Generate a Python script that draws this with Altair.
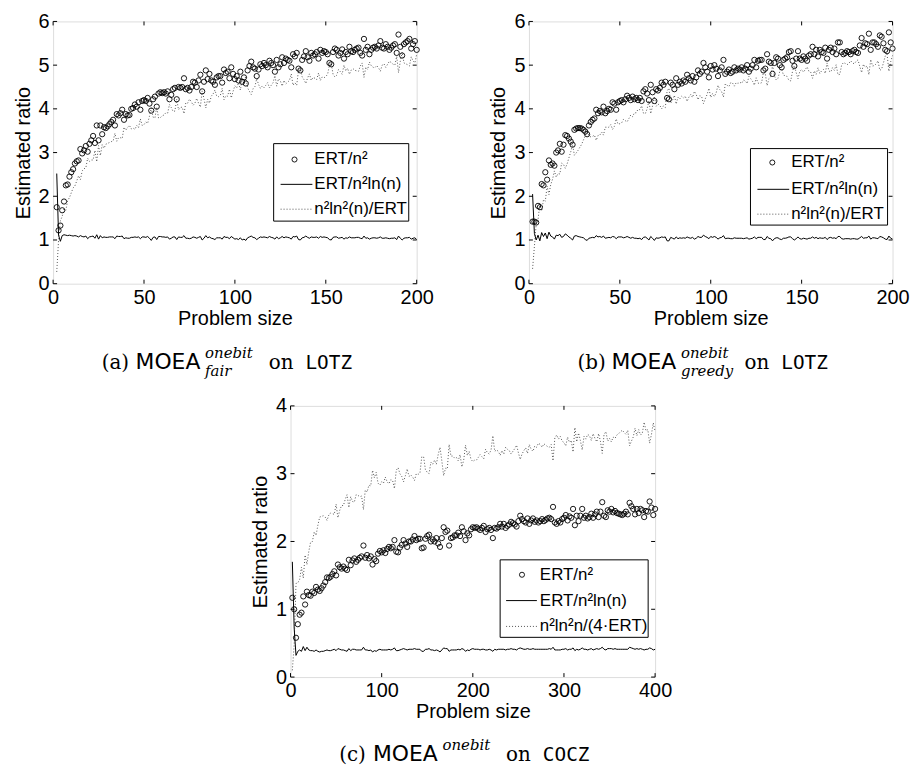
import altair as alt
import pandas as pd

FONT = "Liberation Sans"
SERIF = "DejaVu Serif"
SANS2 = "DejaVu Sans"
MONO = "DejaVu Sans Mono"

# ---------------- panel (a) : n = 2..200 ----------------
A_N = list(range(2, 201))
A_CIRC = [
    1.75, 1.22, 1.33, 1.68, 1.88, 2.25, 2.27, 2.45, 2.55, 2.62,
    2.75, 2.80, 2.82, 3.08, 2.98, 3.05, 3.15, 3.02, 3.20, 3.28,
    3.38, 3.22, 3.62, 3.28, 3.62, 3.42, 3.58, 3.56, 3.60, 3.65,
    3.70, 3.75, 3.62, 3.88, 3.85, 3.90, 3.98, 3.75, 3.88, 3.85,
    3.86, 4.00, 4.02, 4.10, 4.05, 4.15, 3.98, 4.18, 4.20, 4.18,
    4.25, 4.12, 3.96, 4.22, 4.28, 4.05, 4.35, 4.38, 4.36, 4.38,
    4.35, 4.40, 4.22, 4.32, 4.45, 4.48, 4.22, 4.50, 4.48, 4.50,
    4.70, 4.45, 4.48, 4.42, 4.50, 4.62, 4.60, 4.50, 4.65, 4.78,
    4.40, 4.62, 4.88, 4.68, 4.80, 4.65, 4.62, 4.55, 4.72, 4.75,
    4.75, 4.60, 4.90, 4.82, 4.85, 4.70, 4.95, 4.80, 4.68, 4.75,
    4.65, 4.85, 4.62, 4.72, 4.58, 4.88, 4.98, 5.08, 4.95, 4.92,
    4.75, 4.90, 5.02, 4.98, 5.05, 5.00, 4.95, 5.10, 5.05, 5.00,
    4.85, 5.12, 4.95, 5.02, 5.18, 5.05, 5.15, 5.12, 5.10, 4.95,
    5.25, 5.20, 5.28, 4.92, 4.88, 5.12, 5.20, 5.32, 5.18, 5.10,
    5.28, 5.22, 5.25, 5.30, 5.15, 5.35, 5.28, 5.32, 5.30, 5.25,
    5.05, 5.02, 5.30, 5.38, 5.35, 5.22, 5.28, 5.36, 5.15, 5.30,
    5.25, 5.42, 5.32, 5.30, 5.35, 5.38, 5.40, 5.28, 5.22, 5.60,
    5.35, 5.42, 5.25, 5.35, 5.40, 5.42, 5.38, 5.45, 5.55, 5.40,
    5.38, 5.48, 5.42, 5.35, 5.40, 5.45, 5.48, 5.28, 5.70, 5.42,
    5.22, 5.48, 5.52, 5.55, 5.60, 5.38, 5.48, 5.55, 5.35,
]
A_LINE = [
    2.52, 1.11, 0.97, 1.10, 1.12, 1.11, 1.10, 1.11, 1.10, 1.09,
    1.10, 1.09, 1.07, 1.10, 1.08, 1.07, 1.09, 1.03, 1.07, 1.08,
    1.09, 1.04, 1.12, 1.02, 1.10, 1.05, 1.07, 1.06, 1.06, 1.07,
    1.07, 1.07, 1.03, 1.09, 1.08, 1.08, 1.09, 1.03, 1.05, 1.04,
    1.04, 1.06, 1.06, 1.07, 1.06, 1.07, 1.03, 1.07, 1.07, 1.06,
    1.08, 1.04, 0.99, 1.06, 1.07, 1.01, 1.08, 1.08, 1.07, 1.07,
    1.06, 1.07, 1.02, 1.04, 1.07, 1.07, 1.01, 1.07, 1.06, 1.06,
    1.10, 1.04, 1.04, 1.03, 1.04, 1.07, 1.06, 1.04, 1.06, 1.08,
    1.00, 1.04, 1.10, 1.05, 1.07, 1.04, 1.03, 1.01, 1.05, 1.05,
    1.05, 1.02, 1.08, 1.06, 1.06, 1.03, 1.08, 1.05, 1.02, 1.03,
    1.01, 1.05, 1.00, 1.02, 0.99, 1.05, 1.07, 1.09, 1.06, 1.05,
    1.01, 1.04, 1.07, 1.06, 1.07, 1.06, 1.05, 1.08, 1.06, 1.05,
    1.02, 1.07, 1.03, 1.05, 1.08, 1.05, 1.07, 1.06, 1.05, 1.02,
    1.08, 1.07, 1.09, 1.01, 1.00, 1.05, 1.06, 1.09, 1.06, 1.04,
    1.07, 1.06, 1.06, 1.07, 1.04, 1.08, 1.06, 1.07, 1.06, 1.05,
    1.01, 1.00, 1.06, 1.07, 1.07, 1.04, 1.05, 1.06, 1.02, 1.05,
    1.04, 1.07, 1.05, 1.05, 1.05, 1.06, 1.06, 1.04, 1.03, 1.09,
    1.04, 1.05, 1.02, 1.04, 1.05, 1.05, 1.04, 1.05, 1.07, 1.04,
    1.04, 1.05, 1.04, 1.03, 1.04, 1.04, 1.05, 1.01, 1.09, 1.04,
    1.00, 1.04, 1.05, 1.05, 1.06, 1.02, 1.04, 1.05, 1.01,
]
A_DOT = [
    0.27, 0.99, 1.44, 1.54, 1.71, 1.68, 1.90, 1.97, 2.08, 2.19,
    2.24, 2.35, 2.47, 2.38, 2.58, 2.63, 2.65, 2.87, 2.80, 2.83,
    2.83, 3.05, 2.79, 3.16, 2.93, 3.18, 3.10, 3.19, 3.21, 3.23,
    3.25, 3.26, 3.44, 3.26, 3.34, 3.34, 3.32, 3.58, 3.51, 3.58,
    3.62, 3.54, 3.56, 3.53, 3.62, 3.57, 3.77, 3.62, 3.64, 3.70,
    3.67, 3.83, 4.02, 3.81, 3.79, 4.04, 3.79, 3.80, 3.84, 3.86,
    3.91, 3.90, 4.10, 4.03, 3.94, 3.95, 4.22, 3.98, 4.03, 4.04,
    3.89, 4.14, 4.13, 4.22, 4.17, 4.08, 4.13, 4.24, 4.13, 4.04,
    4.41, 4.23, 4.02, 4.22, 4.13, 4.29, 4.34, 4.43, 4.29, 4.28,
    4.31, 4.47, 4.21, 4.30, 4.29, 4.45, 4.25, 4.40, 4.53, 4.48,
    4.60, 4.43, 4.67, 4.59, 4.75, 4.48, 4.40, 4.33, 4.46, 4.51,
    4.69, 4.56, 4.47, 4.52, 4.48, 4.54, 4.60, 4.48, 4.54, 4.60,
    4.76, 4.52, 4.69, 4.64, 4.52, 4.65, 4.57, 4.61, 4.65, 4.80,
    4.54, 4.60, 4.54, 4.89, 4.94, 4.73, 4.67, 4.58, 4.71, 4.80,
    4.65, 4.72, 4.70, 4.67, 4.82, 4.65, 4.73, 4.71, 4.74, 4.79,
    5.00, 5.04, 4.79, 4.73, 4.77, 4.90, 4.85, 4.79, 5.00, 4.87,
    4.93, 4.79, 4.89, 4.92, 4.88, 4.87, 4.86, 4.98, 5.05, 4.72,
    4.95, 4.90, 5.07, 4.99, 4.95, 4.94, 4.99, 4.94, 4.86, 5.00,
    5.03, 4.95, 5.02, 5.09, 5.06, 5.02, 5.00, 5.20, 4.83, 5.09,
    5.30, 5.05, 5.03, 5.01, 4.98, 5.19, 5.10, 5.05, 5.25,
]

# ---------------- panel (b) : n = 2..200 ----------------
B_N = list(range(2, 201))
B_CIRC = [
    1.42, 1.42, 1.40, 1.78, 1.75, 2.28, 2.25, 2.55, 2.38, 2.82,
    2.72, 2.75, 2.70, 3.00, 3.05, 3.20, 3.02, 3.18, 3.40, 3.38,
    3.32, 3.25, 3.18, 3.52, 3.55, 3.56, 3.56, 3.55, 3.52, 3.48,
    3.42, 3.62, 3.70, 3.75, 3.78, 3.98, 3.90, 3.95, 3.92, 4.05,
    3.90, 3.95, 4.00, 3.98, 4.15, 4.12, 3.98, 4.15, 4.18, 4.20,
    4.15, 4.22, 4.30, 4.25, 4.20, 4.28, 4.22, 4.25, 4.20, 4.25,
    4.18, 4.40, 4.45, 4.35, 4.20, 4.55, 4.38, 4.18, 4.45, 4.42,
    4.48, 4.60, 4.55, 4.62, 4.25, 4.22, 4.60, 4.55, 4.45, 4.70,
    4.55, 4.62, 4.58, 4.65, 4.62, 4.78, 4.70, 4.65, 4.75, 4.62,
    4.72, 4.88, 4.80, 4.85, 5.05, 4.95, 4.85, 4.72, 4.98, 4.90,
    5.00, 4.92, 4.75, 4.88, 4.95, 5.12, 4.80, 4.85, 4.90, 4.82,
    4.85, 4.95, 4.88, 4.92, 4.90, 4.95, 4.88, 4.92, 5.00, 4.85,
    4.92, 5.00, 5.12, 4.95, 5.10, 5.12, 5.12, 4.88, 4.92, 5.25,
    5.08, 5.05, 4.80, 5.05, 5.18, 5.15, 5.00, 4.95, 5.12, 5.15,
    5.18, 5.30, 5.32, 5.10, 4.98, 5.15, 5.32, 5.15, 5.12, 5.20,
    5.15, 5.10, 5.22, 5.25, 5.42, 5.25, 5.35, 5.20, 5.35, 5.30,
    5.28, 5.40, 5.15, 5.35, 5.40, 5.30, 5.38, 5.25, 5.52, 5.52,
    5.30, 5.25, 5.28, 5.32, 5.30, 5.25, 5.32, 5.35, 5.30, 5.28,
    5.45, 5.62, 5.42, 5.50, 5.48, 5.72, 5.35, 5.52, 5.52, 5.48,
    5.42, 5.68, 5.65, 5.50, 5.35, 5.32, 5.75, 5.52, 5.38,
]
B_LINE = [
    2.05, 1.15, 1.00, 1.11, 0.98, 1.17, 1.08, 1.16, 1.03, 1.18,
    1.09, 1.07, 1.02, 1.11, 1.10, 1.13, 1.06, 1.08, 1.14, 1.11,
    1.07, 1.04, 1.00, 1.09, 1.10, 1.08, 1.07, 1.06, 1.05, 1.01,
    0.99, 1.04, 1.05, 1.06, 1.05, 1.10, 1.07, 1.08, 1.06, 1.09,
    1.04, 1.05, 1.06, 1.05, 1.08, 1.07, 1.03, 1.07, 1.07, 1.07,
    1.05, 1.06, 1.08, 1.06, 1.04, 1.06, 1.04, 1.04, 1.03, 1.04,
    1.01, 1.06, 1.07, 1.04, 1.00, 1.08, 1.04, 0.99, 1.05, 1.04,
    1.05, 1.07, 1.06, 1.07, 0.98, 0.98, 1.06, 1.04, 1.02, 1.07,
    1.03, 1.05, 1.04, 1.05, 1.04, 1.07, 1.05, 1.04, 1.06, 1.02,
    1.04, 1.08, 1.06, 1.06, 1.11, 1.08, 1.06, 1.03, 1.08, 1.06,
    1.08, 1.06, 1.02, 1.05, 1.06, 1.10, 1.03, 1.04, 1.04, 1.03,
    1.03, 1.05, 1.04, 1.04, 1.04, 1.04, 1.03, 1.04, 1.05, 1.02,
    1.03, 1.04, 1.07, 1.03, 1.06, 1.06, 1.06, 1.01, 1.01, 1.08,
    1.04, 1.03, 0.98, 1.03, 1.05, 1.05, 1.02, 1.01, 1.04, 1.04,
    1.05, 1.07, 1.07, 1.03, 1.00, 1.03, 1.07, 1.03, 1.02, 1.04,
    1.03, 1.02, 1.04, 1.04, 1.07, 1.04, 1.06, 1.03, 1.05, 1.04,
    1.04, 1.06, 1.01, 1.05, 1.06, 1.04, 1.05, 1.03, 1.08, 1.08,
    1.03, 1.02, 1.03, 1.03, 1.03, 1.02, 1.03, 1.03, 1.02, 1.02,
    1.05, 1.08, 1.04, 1.05, 1.05, 1.09, 1.02, 1.05, 1.05, 1.04,
    1.03, 1.08, 1.07, 1.05, 1.02, 1.01, 1.09, 1.04, 1.02,
]
B_DOT = [
    0.34, 0.85, 1.37, 1.46, 1.83, 1.66, 1.92, 1.89, 2.23, 2.04,
    2.27, 2.39, 2.58, 2.44, 2.52, 2.51, 2.76, 2.73, 2.64, 2.74,
    2.88, 3.02, 3.18, 2.94, 2.99, 3.05, 3.12, 3.19, 3.29, 3.39,
    3.51, 3.38, 3.36, 3.37, 3.40, 3.28, 3.39, 3.40, 3.47, 3.40,
    3.58, 3.58, 3.58, 3.64, 3.53, 3.60, 3.77, 3.65, 3.66, 3.68,
    3.76, 3.73, 3.70, 3.78, 3.86, 3.82, 3.91, 3.91, 3.99, 3.98,
    4.07, 3.90, 3.89, 4.00, 4.18, 3.89, 4.07, 4.29, 4.06, 4.11,
    4.08, 4.00, 4.07, 4.03, 4.41, 4.47, 4.13, 4.20, 4.31, 4.11,
    4.27, 4.23, 4.29, 4.25, 4.29, 4.17, 4.27, 4.33, 4.26, 4.40,
    4.33, 4.21, 4.30, 4.28, 4.12, 4.23, 4.33, 4.47, 4.26, 4.35,
    4.28, 4.37, 4.54, 4.44, 4.39, 4.27, 4.57, 4.54, 4.51, 4.60,
    4.59, 4.52, 4.60, 4.58, 4.61, 4.58, 4.66, 4.64, 4.58, 4.74,
    4.69, 4.63, 4.54, 4.71, 4.59, 4.58, 4.60, 4.84, 4.81, 4.53,
    4.69, 4.73, 5.00, 4.76, 4.66, 4.70, 4.86, 4.92, 4.77, 4.76,
    4.74, 4.65, 4.64, 4.86, 4.99, 4.83, 4.69, 4.86, 4.90, 4.84,
    4.90, 4.96, 4.86, 4.84, 4.70, 4.87, 4.79, 4.94, 4.81, 4.87,
    4.90, 4.81, 5.05, 4.87, 4.84, 4.94, 4.88, 5.01, 4.78, 4.79,
    5.00, 5.06, 5.04, 5.01, 5.04, 5.10, 5.05, 5.03, 5.09, 5.12,
    4.97, 4.83, 5.02, 4.95, 4.98, 4.78, 5.13, 4.98, 4.99, 5.03,
    5.10, 4.88, 4.91, 5.05, 5.21, 5.25, 4.86, 5.08, 5.22,
]

# ---------------- panel (c) : n = 2, 4, ..., 400 ----------------
C_N = list(range(2, 401, 2))
C_CIRC = [
    1.17, 1.00, 0.58, 0.78, 0.92, 0.95, 1.19, 1.07, 1.26, 1.21,
    1.20, 1.26, 1.24, 1.33, 1.29, 1.27, 1.31, 1.35, 1.40, 1.47,
    1.46, 1.48, 1.52, 1.56, 1.50, 1.66, 1.62, 1.60, 1.63, 1.60,
    1.58, 1.73, 1.65, 1.72, 1.75, 1.70, 1.73, 1.76, 1.78, 1.94,
    1.76, 1.80, 1.75, 1.78, 1.66, 1.74, 1.71, 1.82, 1.86, 1.84,
    1.87, 1.83, 1.89, 1.92, 1.90, 1.92, 2.02, 1.85, 1.84, 1.91,
    1.95, 2.02, 1.97, 1.92, 2.00, 2.00, 2.03, 2.08, 2.02, 2.04,
    2.04, 1.90, 1.91, 2.04, 2.08, 2.10, 2.00, 2.03, 2.00, 2.05,
    1.97, 1.92, 2.05, 2.21, 2.14, 2.16, 1.94, 2.05, 2.06, 2.09,
    2.09, 2.13, 2.08, 2.21, 2.15, 2.02, 2.12, 2.09, 2.18, 2.21,
    2.20, 2.21, 2.19, 2.17, 2.20, 2.23, 2.14, 2.18, 2.20, 2.17,
    2.05, 2.20, 2.19, 2.21, 2.26, 2.22, 2.26, 2.20, 2.23, 2.25,
    2.29, 2.27, 2.25, 2.22, 2.30, 2.38, 2.33, 2.30, 2.28, 2.34,
    2.26, 2.31, 2.34, 2.29, 2.31, 2.28, 2.30, 2.33, 2.30, 2.32,
    2.34, 2.35, 2.33, 2.51, 2.28, 2.26, 2.30, 2.28, 2.33, 2.35,
    2.39, 2.31, 2.37, 2.35, 2.48, 2.24, 2.38, 2.30, 2.38, 2.48,
    2.35, 2.38, 2.34, 2.36, 2.41, 2.35, 2.40, 2.44, 2.36, 2.44,
    2.58, 2.38, 2.36, 2.46, 2.44, 2.48, 2.43, 2.45, 2.42, 2.41,
    2.40, 2.39, 2.41, 2.44, 2.40, 2.57, 2.52, 2.48, 2.40, 2.48,
    2.42, 2.48, 2.46, 2.36, 2.45, 2.44, 2.59, 2.50, 2.39, 2.48,
]
C_LINE = [
    1.70, 0.72, 0.32, 0.38, 0.40, 0.38, 0.45, 0.39, 0.44, 0.40,
    0.39, 0.39, 0.38, 0.40, 0.38, 0.37, 0.38, 0.38, 0.39, 0.40,
    0.39, 0.39, 0.40, 0.41, 0.39, 0.42, 0.41, 0.40, 0.40, 0.39,
    0.38, 0.42, 0.39, 0.41, 0.41, 0.40, 0.40, 0.40, 0.40, 0.44,
    0.40, 0.40, 0.39, 0.40, 0.37, 0.39, 0.38, 0.40, 0.41, 0.40,
    0.40, 0.40, 0.40, 0.41, 0.40, 0.41, 0.43, 0.39, 0.39, 0.40,
    0.41, 0.42, 0.41, 0.40, 0.41, 0.41, 0.41, 0.42, 0.41, 0.41,
    0.41, 0.38, 0.38, 0.41, 0.41, 0.42, 0.40, 0.40, 0.39, 0.40,
    0.39, 0.37, 0.40, 0.43, 0.42, 0.42, 0.38, 0.40, 0.40, 0.40,
    0.40, 0.41, 0.40, 0.42, 0.41, 0.38, 0.40, 0.39, 0.41, 0.42,
    0.41, 0.41, 0.41, 0.40, 0.41, 0.41, 0.40, 0.40, 0.41, 0.40,
    0.38, 0.41, 0.40, 0.41, 0.41, 0.41, 0.41, 0.40, 0.41, 0.41,
    0.42, 0.41, 0.41, 0.40, 0.42, 0.43, 0.42, 0.41, 0.41, 0.42,
    0.41, 0.41, 0.42, 0.41, 0.41, 0.41, 0.41, 0.41, 0.41, 0.41,
    0.41, 0.42, 0.41, 0.44, 0.40, 0.40, 0.40, 0.40, 0.41, 0.41,
    0.42, 0.40, 0.41, 0.41, 0.43, 0.39, 0.41, 0.40, 0.41, 0.43,
    0.41, 0.41, 0.40, 0.41, 0.42, 0.40, 0.41, 0.42, 0.41, 0.42,
    0.44, 0.41, 0.40, 0.42, 0.42, 0.42, 0.41, 0.42, 0.41, 0.41,
    0.41, 0.41, 0.41, 0.41, 0.41, 0.44, 0.43, 0.42, 0.41, 0.42,
    0.41, 0.42, 0.41, 0.40, 0.41, 0.41, 0.43, 0.42, 0.40, 0.41,
]
C_DOT = [
    0.10, 0.48, 1.38, 1.39, 1.44, 1.62, 1.46, 1.80, 1.66, 1.85,
    1.99, 2.00, 2.14, 2.09, 2.24, 2.36, 2.37, 2.38, 2.36, 2.31,
    2.39, 2.42, 2.41, 2.40, 2.55, 2.35, 2.46, 2.53, 2.53, 2.62,
    2.69, 2.50, 2.66, 2.59, 2.58, 2.69, 2.68, 2.66, 2.67, 2.47,
    2.76, 2.73, 2.83, 2.82, 3.05, 2.94, 3.02, 2.86, 2.83, 2.88,
    2.86, 2.95, 2.88, 2.85, 2.91, 2.90, 2.78, 3.05, 3.09, 3.00,
    2.96, 2.88, 2.97, 3.07, 2.96, 2.98, 2.95, 2.90, 3.00, 2.99,
    3.01, 3.25, 3.25, 3.06, 3.02, 3.00, 3.17, 3.14, 3.20, 3.14,
    3.28, 3.39, 3.19, 2.97, 3.08, 3.07, 3.43, 3.26, 3.26, 3.23,
    3.24, 3.19, 3.28, 3.10, 3.20, 3.42, 3.27, 3.33, 3.21, 3.18,
    3.20, 3.20, 3.24, 3.28, 3.25, 3.22, 3.36, 3.31, 3.29, 3.35,
    3.56, 3.33, 3.35, 3.33, 3.27, 3.34, 3.29, 3.39, 3.36, 3.34,
    3.29, 3.33, 3.37, 3.42, 3.31, 3.21, 3.29, 3.34, 3.38, 3.30,
    3.43, 3.36, 3.33, 3.41, 3.39, 3.45, 3.43, 3.39, 3.44, 3.42,
    3.40, 3.39, 3.43, 3.19, 3.53, 3.57, 3.51, 3.55, 3.48, 3.46,
    3.41, 3.54, 3.46, 3.49, 3.32, 3.68, 3.47, 3.60, 3.49, 3.35,
    3.55, 3.51, 3.58, 3.56, 3.49, 3.59, 3.52, 3.47, 3.59, 3.48,
    3.30, 3.58, 3.62, 3.48, 3.52, 3.47, 3.54, 3.52, 3.57, 3.59,
    3.62, 3.64, 3.61, 3.58, 3.64, 3.41, 3.48, 3.54, 3.67, 3.56,
    3.65, 3.57, 3.60, 3.76, 3.63, 3.65, 3.45, 3.58, 3.75, 3.62,
]

# ---------------- axes, legends, captions ----------------
AB_XTICKS = [0, 50, 100, 150, 200]
AB_YTICKS = [0, 1, 2, 3, 4, 5, 6]
C_XTICKS = [0, 100, 200, 300, 400]
C_YTICKS = [0, 1, 2, 3, 4]

LEG_AB = ["ERT/n\u00b2", "ERT/n\u00b2ln(n)", "n\u00b2ln\u00b2(n)/ERT"]
LEG_C = ["ERT/n\u00b2", "ERT/n\u00b2ln(n)", "n\u00b2ln\u00b2n/(4\u00b7ERT)"]

CAP_A = ["(a)", "MOEA", "onebit", "fair", "on", "LOTZ"]
CAP_B = ["(b)", "MOEA", "onebit", "greedy", "on", "LOTZ"]
CAP_C = ["(c)", "MOEA", "onebit", "", "on", "COCZ"]

ONE = pd.DataFrame({"k": [0]})


def txt(s, x, y, font=FONT, size=16, style="normal", align="left"):
    return alt.Chart(ONE).mark_text(
        text=s, font=font, fontSize=size, fontStyle=style, align=align,
        baseline="alphabetic", color="black"
    ).encode(x=alt.value(x), y=alt.value(y))


def legend(labels, bx0, bx1, by0, by1, rows, symx, lx0, lx1, tx):
    box = alt.Chart(ONE).mark_rect(fill="white", stroke="black", strokeWidth=1).encode(
        x=alt.value(bx0), x2=alt.value(bx1), y=alt.value(by0), y2=alt.value(by1))
    sym = alt.Chart(ONE).mark_point(shape="circle", filled=False, color="black",
                                    size=26, strokeWidth=0.9, opacity=1).encode(
        x=alt.value(symx), y=alt.value(rows[0]))
    l1 = alt.Chart(ONE).mark_rule(color="black", strokeWidth=1).encode(
        x=alt.value(lx0), x2=alt.value(lx1), y=alt.value(rows[1]))
    l2 = alt.Chart(ONE).mark_rule(color="#555555", strokeWidth=1, strokeDash=[1, 2]).encode(
        x=alt.value(lx0), x2=alt.value(lx1), y=alt.value(rows[2]))
    layers = [box, sym, l1, l2]
    for lab, r in zip(labels, rows):
        layers.append(alt.Chart(ONE).mark_text(
            text=lab, font=FONT, fontSize=17, align="left", baseline="middle", color="black"
        ).encode(x=alt.value(tx), y=alt.value(r)))
    return layers


def caption(parts, base):
    lab, moea, sup, sub, on, prob = parts
    layers = [
        txt(lab, 49, base, font=SERIF, size=20),
        txt(moea, 83, base, font=SANS2, size=22),
        txt(sup, 153, base - 11, font=SERIF, size=15, style="italic"),
        txt(on, 217, base, font=SERIF, size=20),
        txt(prob, 254, base, font=MONO, size=19.5),
    ]
    if sub:
        layers.append(txt(sub, 153, base + 7, font=SERIF, size=15, style="italic"))
    return layers


def panel(n, circ, line, dot, xmax, ymax, xticks, yticks, W, H, extra):
    df = pd.DataFrame({"n": n, "circ": circ, "line": line, "dot": dot})
    xs = alt.Scale(domain=[0, xmax], nice=False, zero=False)
    ys = alt.Scale(domain=[0, ymax], nice=False, zero=False)
    common = dict(grid=False, domain=False, ticks=False, tickSize=0, labelPadding=4,
                  labelFont=FONT, titleFont=FONT, labelFontSize=20, titleFontSize=20,
                  titleFontWeight="normal", labelColor="black", titleColor="black",
                  labelOverlap=False, labelFlush=False, format="d")
    xaxis = alt.Axis(values=xticks, title="Problem size", titlePadding=1, **common)
    yaxis = alt.Axis(values=yticks, title="Estimated ratio", titlePadding=5, **common)

    def X(f):
        return alt.X(f, scale=xs, axis=xaxis)

    def Y(f):
        return alt.Y(f, scale=ys, axis=yaxis)

    base = alt.Chart(df)
    dotted = base.mark_line(color="#555555", strokeWidth=1, strokeDash=[1, 2]).encode(
        x=X("n:Q"), y=Y("dot:Q"))
    solid = base.mark_line(color="black", strokeWidth=1).encode(x=X("n:Q"), y=Y("line:Q"))
    pts = base.mark_point(shape="circle", filled=False, color="black", size=28,
                          strokeWidth=0.9, opacity=1).encode(x=X("n:Q"), y=Y("circ:Q"))
    xt = alt.Chart(pd.DataFrame({"v": xticks}))
    yt = alt.Chart(pd.DataFrame({"v": yticks}))
    tb = xt.mark_rule(color="black").encode(x=X("v:Q"), y=alt.value(H), y2=alt.value(H - 4))
    tt = xt.mark_rule(color="black").encode(x=X("v:Q"), y=alt.value(0), y2=alt.value(4))
    tl = yt.mark_rule(color="black").encode(y=Y("v:Q"), x=alt.value(0), x2=alt.value(4))
    tr = yt.mark_rule(color="black").encode(y=Y("v:Q"), x=alt.value(W), x2=alt.value(W - 4))
    return alt.layer(dotted, solid, pts, tb, tt, tl, tr, *extra).properties(width=W, height=H)


HT = 264  # top-row plot height
A = panel(A_N, A_CIRC, A_LINE, A_DOT, 200, 6, AB_XTICKS, AB_YTICKS, 366, HT,
          legend(LEG_AB, 222, 358, 123, 201, [139, 164, 189], 243, 229, 261, 263)
          + caption(CAP_A, HT + 86))
B = panel(B_N, B_CIRC, B_LINE, B_DOT, 200, 6, AB_XTICKS, AB_YTICKS, 366, HT,
          legend(LEG_AB, 223, 361, 128, 205, [142, 169, 194], 245, 230, 262, 264)
          + caption(CAP_B, HT + 86))
C = panel(C_N, C_CIRC, C_LINE, C_DOT, 400, 4, C_XTICKS, C_YTICKS, 367, 273,
          legend(LEG_C, 211, 360, 155, 233, [170, 196, 222], 233, 217, 248, 251)
          + caption(CAP_C, 273 + 84))

top = alt.hconcat(A, B, spacing=54)
chart = alt.vconcat(top, C, spacing=15, center=True).properties(
    padding={"left": 4, "top": 0, "right": 0, "bottom": 0}
).configure_view(stroke="black", strokeWidth=1).configure(font=FONT)

chart.save("out.html", embed_options={"renderer": "svg", "actions": False})
